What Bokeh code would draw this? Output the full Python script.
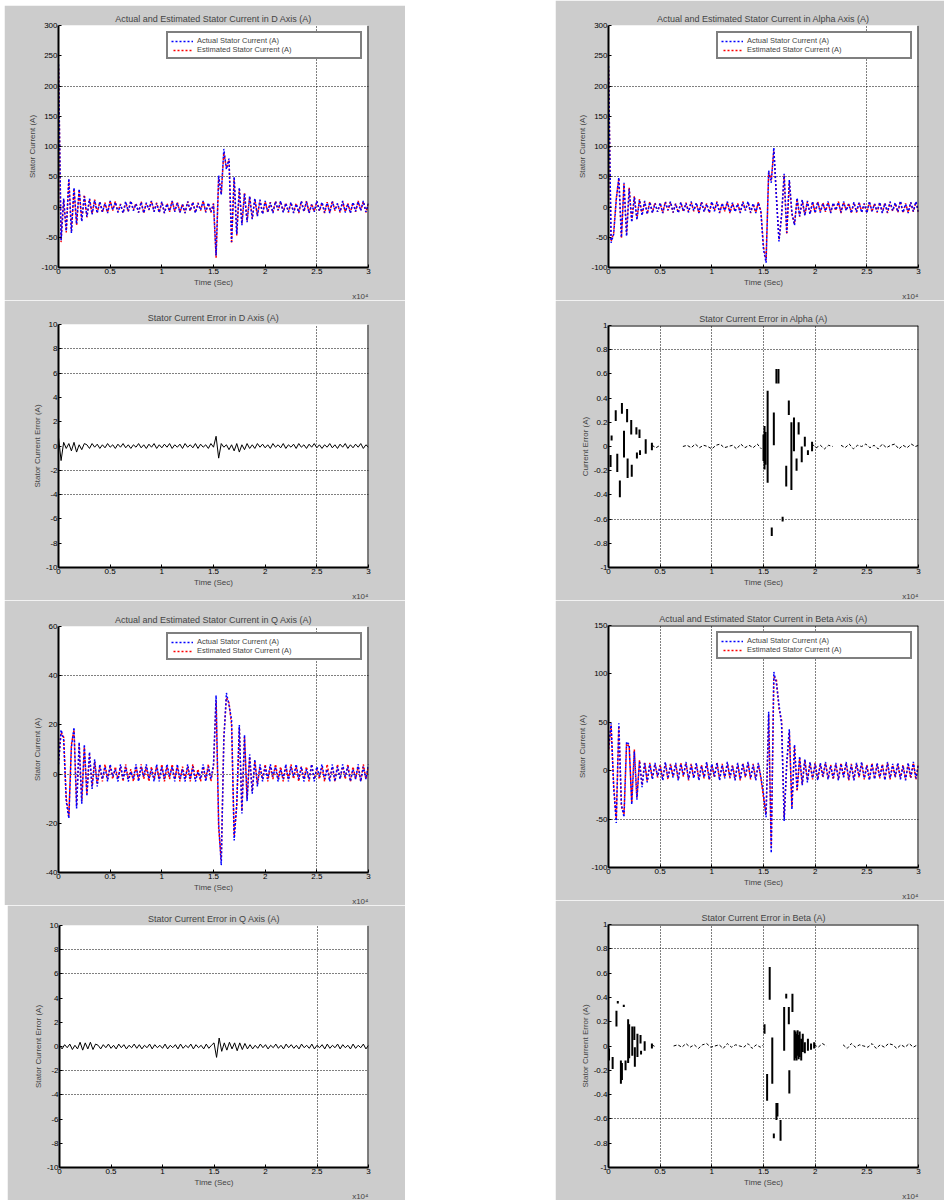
from bokeh.plotting import figure
from bokeh.layouts import row, column, Spacer
from bokeh.models import (FixedTicker, CustomJSTickFormatter, Range1d, Legend, LegendItem,
                          Span, Title)
from bokeh.embed import file_html
from bokeh.resources import INLINE

NAN = float("nan")
FONT = "Liberation Sans"
GRAY = "#cccccc"

# ---------------- data (time in units of 1e4 samples) ----------------
TIME = [0.0, 0.025, 0.05, 0.075, 0.1, 0.125, 0.15, 0.175,
        0.2, 0.225, 0.25, 0.275, 0.3, 0.325, 0.35, 0.375,
        0.4, 0.425, 0.45, 0.475, 0.5, 0.525, 0.55, 0.575,
        0.6, 0.625, 0.65, 0.675, 0.7, 0.725, 0.75, 0.775,
        0.8, 0.825, 0.85, 0.875, 0.9, 0.925, 0.95, 0.975,
        1.0, 1.025, 1.05, 1.075, 1.1, 1.125, 1.15, 1.175,
        1.2, 1.225, 1.25, 1.275, 1.3, 1.325, 1.35, 1.375,
        1.4, 1.425, 1.45, 1.475, 1.5, 1.525, 1.55, 1.575,
        1.6, 1.625, 1.65, 1.675, 1.7, 1.725, 1.75, 1.775,
        1.8, 1.825, 1.85, 1.875, 1.9, 1.925, 1.95, 1.975,
        2.0, 2.025, 2.05, 2.075, 2.1, 2.125, 2.15, 2.175,
        2.2, 2.225, 2.25, 2.275, 2.3, 2.325, 2.35, 2.375,
        2.4, 2.425, 2.45, 2.475, 2.5, 2.525, 2.55, 2.575,
        2.6, 2.625, 2.65, 2.675, 2.7, 2.725, 2.75, 2.775,
        2.8, 2.825, 2.85, 2.875, 2.9, 2.925, 2.95, 2.975,
        3.0]

X_TICKS = [0, 0.5, 1, 1.5, 2, 2.5, 3]

# Panel A (row 1 left)
ACT_A = [236, -55, 14, -40, 47, -43, 32, -28, 30, -24, 18, -16, 14, -12, 11, -10,
         9, -8, 6, -10, 10, -5, 8, -9, 4, -10, 9, -7, 10, -6, 5, -9, 8, -10, 7, -4,
         10, -8, 6, -9, 9, -10, 5, -7, 10, -8, 7, -9, 4, -10, 9, -6, 8, -10, 6, -5,
         10, -9, 7, -8, 5,
         -80, 52, 20, 96, 62, 80, -58, 50, -45, 32, -30, 22, -25, 18, -20, 14, -15, 12, -12,
         10, -8, 7, -10, 9, -5, 10, -9, 6, -8, 8, -10, 5, -9, 10, -7, 9, -10, 4, -8,
         10, -6, 8, -9, 7, -10, 9, -5, 6, -8, 10, -9, 5, -10, 8, -7, 9, -6, 10, -8, 6]
EST_A = [232, -58, 12, -42, 45, -40, 30, -30, 28, -22, 20, -17, 13, -11, 12, -9,
         8, -9, 7, -9, 10, -6, 9, -8, 5, -10, 8, -8, 10, -5, 6, -9, 9, -10, 6, -5,
         10, -7, 7, -9, 8, -10, 6, -8, 10, -7, 8, -9, 5, -10, 9, -7, 8, -9, 7, -6,
         10, -8, 6, -9, 6,
         -84, 50, 22, 90, 65, 78, -60, 48, -47, 30, -28, 24, -23, 17, -19, 13, -14, 11, -11,
         9, -9, 8, -9, 10, -6, 9, -8, 7, -9, 7, -9, 6, -10, 9, -8, 10, -9, 5, -7,
         9, -7, 7, -10, 8, -9, 10, -6, 5, -9, 9, -8, 6, -9, 7, -8, 10, -5, 9, -9, 7]

# Panel B (row 1 right)
ACT_B = [233, -59, -45, 12, 49, -50, 40, -48, 30, -25, 16, -21, 12, -14, 10, -12,
         8, -10, 6, -8, 7, -10, 8, -5, 9, -9, 5, -10, 8, -7, 6, -9, 9, -6, 7, -10,
         8, -8, 5, -9, 9, -7, 8, -10, 6, -6, 9, -9, 7, -8, 5, -10, 8, -6, 9, -9,
         6, -10, 7, -8,
         -70, -92, 60, 40, 98, 15, -57, -13, 55, -43, 45, -10, -30, 15, -15, 12, -14, 10, -12, 9,
         -10, 8, -9, 6, -7, 9, -10, 7, -5, 8, -9, 9, -6, 5, -10, 8, -8, 7, -9, 6,
         -10, 9, -7, 5, -8, 8, -10, 6, -9, 9, -6, 7, -8, 10, -9, 5, -10, 8, -7, 9, -8]
EST_B = [230, -57, -43, 14, 47, -52, 38, -46, 32, -23, 18, -20, 13, -12, 9, -11,
         9, -9, 7, -8, 6, -10, 9, -6, 8, -9, 6, -9, 7, -8, 7, -8, 8, -7, 6, -10,
         9, -7, 6, -10, 8, -6, 9, -9, 5, -7, 8, -10, 6, -7, 6, -9, 9, -5, 8, -10,
         5, -9, 8, -7,
         -66, -88, 57, 44, 93, 18, -54, -15, 52, -45, 42, -12, -28, 13, -16, 11, -13, 9, -11, 8,
         -9, 9, -8, 7, -8, 8, -9, 6, -6, 9, -10, 8, -5, 6, -9, 7, -9, 8, -8, 5,
         -9, 8, -8, 6, -9, 7, -9, 7, -10, 8, -7, 6, -9, 9, -10, 6, -9, 7, -8, 8, -9]

# Panel C (row 2 left, error)
ERR_C = [0.7, -1.2, 0.3, -0.2, 0.2, -0.4, 0.3, -0.5, 0.1, -0.3, 0.2,
         0.1, -0.2, 0.2, -0.1, 0.15, -0.2, 0.1, -0.15, 0.2, -0.1,
         0.1, -0.2, 0.15, -0.1, 0.2, -0.15, 0.1, -0.2, 0.1, -0.1,
         0.2, -0.15, 0.1, -0.2, 0.15, -0.1, 0.2, -0.2, 0.1, -0.15,
         0.15, -0.1, 0.2, -0.2, 0.1, -0.1, 0.15, -0.2, 0.2, -0.1,
         0.1, -0.15, 0.2, -0.2, 0.15, -0.1, 0.1, -0.2, 0.2, -0.1,
         0.8, -1.0, 0.2, -0.1, 0.1, -0.3, 0.1, -0.4, 0.2, -0.5, 0.1, -0.3, 0.2, -0.2,
         0.1, -0.2, 0.2, -0.1, 0.15, -0.15, 0.1, -0.2, 0.2, -0.1,
         0.1, -0.15, 0.2, -0.2, 0.1, -0.1, 0.15, -0.2, 0.2, -0.1,
         0.1, -0.2, 0.15, -0.1, 0.2, -0.15, 0.1, -0.2, 0.1, -0.1,
         0.2, -0.15, 0.1, -0.2, 0.15, -0.1, 0.2, -0.2, 0.1, -0.15,
         0.15, -0.1, 0.2, -0.2, 0.1, -0.1]

# Panel D (row 2 right, error bars + baseline)
BAR_D_T = [0.02, 0.03, 0.07, 0.085, 0.11, 0.13, 0.15, 0.18, 0.185, 0.22,
           0.225, 0.27, 0.275, 0.30, 0.305, 0.36, 0.42, 1.50, 1.51, 1.52,
           1.54, 1.58, 1.60, 1.625, 1.645, 1.685, 1.72, 1.745, 1.77, 1.795,
           1.82, 1.84, 1.87, 1.90, 1.93, 1.97]
BAR_D_LO = [-0.17, 0.05, 0.21, -0.21, -0.42, 0.27, -0.09, 0.20, -0.26, 0.10,
            -0.25, 0.10, -0.10, 0.07, -0.07, -0.06, -0.03, -0.12, -0.19, -0.15,
            -0.30, -0.74, 0.01, 0.52, 0.52, -0.62, -0.33, 0.26, -0.36, -0.04,
            -0.20, 0.10, -0.13, 0.0, -0.07, -0.04]
BAR_D_HI = [-0.07, 0.09, 0.30, -0.06, -0.28, 0.36, 0.13, 0.31, -0.10, 0.22,
            -0.15, 0.16, -0.05, 0.14, -0.03, 0.06, 0.03, 0.10, 0.17, 0.12,
            0.46, -0.67, 0.28, 0.64, 0.64, -0.58, -0.16, 0.38, 0.20, 0.24,
            -0.10, 0.20, 0.0, 0.08, -0.03, 0.04]
BASE_D_T = [0.42, 0.46, 0.5, NAN,
            0.72, 0.76, 0.8, 0.84, 0.88, 0.92, 0.96, 1.0, 1.04, 1.08,
            1.12, 1.16, 1.2, 1.24, 1.28, 1.32, 1.36, 1.4, 1.44, 1.48, NAN,
            1.97, 2.01, 2.05, 2.09, 2.13, 2.17, NAN,
            2.25, 2.29, 2.33, 2.37, 2.41, 2.45, 2.49, 2.53, 2.57, 2.61,
            2.65, 2.69, 2.73, 2.77, 2.81, 2.85, 2.89, 2.93, 2.97, 3.0]
BASE_D_Y = [0.01, -0.01, 0.01, NAN,
            0.0, 0.01, -0.01, 0.02, -0.01, 0.01, 0.0, -0.02, 0.01, 0.02,
            -0.01, 0.0, 0.01, -0.02, 0.02, -0.01, 0.01, -0.01, 0.02, -0.02, NAN,
            0.02, -0.01, 0.01, -0.02, 0.01, 0.0, NAN,
            0.01, -0.01, 0.02, -0.02, 0.01, 0.0, 0.02, -0.01, 0.01, -0.02,
            0.02, -0.01, 0.01, 0.02, -0.02, 0.01, -0.01, 0.02, 0.0, 0.01]

# Panel E (row 3 left)
ACT_E = [4, 18, 14, -11, -18, 11, 19, -14, 13, -12, 12, -9, 9, -6, 6, -5,
         4, -2, 3, -3, 4, -1, 2, -3, 4, -2, 3, -3, 1, -2, 4, -3, 3, -1, 4, -2,
         2, -3, 4, -3, 3, -2, 4, -1, 3, -3, 4, -2, 2, -3, 4, -2, 3, -3, 1, -2,
         4, -3, 3, -2,
         4, 32, -20, -37, 14, 33, 28, 22, -27, -12, 20, -16, 16, -11, 8, -8, 6, -5,
         4, -3, 3, -2, 4, -1, 3, -3, 2, -2, 4, -3, 3, -1, 4, -2, 3, -3, 2, -2,
         4, -3, 3, -1, 4, -2, 2, -3, 4, -3, 3, -2, 4, -1, 3, -3, 2, -2, 4, -3, 3, -2, 4]
EST_E = [5, 17, 15, -10, -17, 12, 18, -13, 12, -11, 11, -8, 8, -5, 5, -4,
         3, -3, 4, -2, 3, -2, 3, -2, 3, -3, 4, -2, 2, -3, 3, -2, 4, -2, 3, -3,
         3, -2, 3, -2, 4, -3, 3, -2, 4, -2, 3, -3, 3, -2, 3, -3, 4, -2, 2, -3,
         3, -2, 4, -3,
         3, 30, -22, -35, 15, 31, 29, 20, -25, -13, 19, -15, 15, -10, 7, -7, 5, -4,
         3, -2, 4, -3, 3, -2, 4, -2, 3, -3, 3, -2, 4, -2, 3, -3, 3, -2, 3, -3,
         4, -2, 2, -2, 3, -3, 4, -2, 3, -3, 4, -2, 3, -2, 4, -3, 3, -2, 3, -3, 4, -2, 3]

# Panel F (row 3 right)
ACT_F = [23, 49, -17, -54, 49, -35, -48, 30, 27, -35, 20, -30, 10, -17, 8, -12,
         7, -9, 8, -6, 5, -10, 9, -8, 6, -7, 8, -10, 7, -5, 9, -9, 6, -8, 8, -10,
         5, -7, 9, -9, 7, -6, 8, -10, 6, -8, 9, -7, 5, -10, 8, -9, 7, -6, 9, -8,
         6, -10, 8, -7,
         -24, -48, 61, -85, 102, 90, 68, 48, -52, 9, 43, -40, 27, -20, 15, -15, 12, -12,
         9, -8, 7, -10, 8, -6, 9, -9, 5, -8, 8, -10, 7, -7, 9, -9, 6, -10, 8, -6,
         9, -8, 5, -10, 7, -9, 8, -7, 6, -10, 9, -8, 7, -6, 8, -9, 5, -10, 8, -7, 9, -8, 6]
EST_F = [20, 47, -15, -50, 46, -37, -45, 28, 25, -33, 22, -28, 11, -15, 9, -11,
         8, -8, 7, -7, 6, -9, 8, -9, 7, -6, 7, -9, 8, -6, 8, -10, 7, -7, 7, -9,
         6, -8, 8, -10, 6, -7, 9, -9, 7, -7, 8, -8, 6, -9, 7, -10, 8, -7, 8, -9,
         7, -9, 7, -8,
         -28, -45, 58, -80, 97, 94, 64, 52, -48, 6, 40, -37, 25, -21, 13, -14, 11, -10,
         8, -9, 8, -9, 7, -7, 8, -8, 6, -9, 7, -9, 8, -6, 8, -10, 7, -9, 7, -7,
         8, -9, 6, -9, 8, -8, 7, -8, 7, -9, 8, -9, 6, -7, 7, -8, 6, -9, 7, -8, 8, -9, 7]

# Panel G (row 4 left, error)
ERR_G = [0.1, -0.2, 0.15, -0.1, 0.2, -0.25, 0.1, -0.2, 0.35, -0.3, 0.3, -0.2, 0.35, -0.25, 0.2,
         0.1, -0.2, 0.15, -0.1, 0.2, -0.15, 0.1, -0.2, 0.2, -0.1,
         0.15, -0.2, 0.1, -0.1, 0.2, -0.15, 0.15, -0.2, 0.1, -0.1,
         0.2, -0.2, 0.15, -0.1, 0.1, -0.15, 0.2, -0.2, 0.1, -0.1,
         0.15, -0.2, 0.2, -0.15, 0.1, -0.1, 0.2, -0.2, 0.15, -0.1,
         0.1, -0.2, 0.2, -0.15, 0.1,
         0.3, -0.9, 0.7, -0.4, 0.3, -0.3, 0.35, -0.2, 0.3, -0.35, 0.3, -0.25, 0.25, -0.2,
         0.15, -0.2, 0.1, -0.15, 0.2, -0.1, 0.15, -0.2, 0.1, -0.1,
         0.2, -0.15, 0.1, -0.2, 0.2, -0.1, 0.15, -0.15, 0.1, -0.2,
         0.2, -0.1, 0.1, -0.15, 0.2, -0.2, 0.1, -0.1, 0.15, -0.2,
         0.2, -0.15, 0.1, -0.1, 0.2, -0.2, 0.15, -0.1, 0.1, -0.2,
         0.2, -0.15, 0.1, -0.1, 0.2, -0.2, 0.1]

# Panel H (row 4 right, error bars + baseline)
BAR_H_T = [0.005, 0.04, 0.077, 0.09, 0.12, 0.13, 0.148, 0.165, 0.19, 0.2,
           0.23, 0.25, 0.255, 0.28, 0.31, 0.315, 0.35, 0.42, 1.51, 1.535,
           1.56, 1.585, 1.60, 1.625, 1.635, 1.665, 1.70, 1.72, 1.745, 1.75,
           1.78, 1.80, 1.81, 1.82, 1.83, 1.84, 1.85, 1.865, 1.88, 1.90,
           1.93, 1.96, 1.99]
BAR_H_LO = [-0.12, -0.19, 0.16, 0.35, -0.31, -0.28, 0.32, -0.20, -0.14, -0.10,
            -0.08, 0.05, -0.17, -0.09, 0.02, -0.07, -0.04, -0.02, 0.10, -0.45,
            0.38, -0.31, -0.76, -0.61, -0.58, -0.78, -0.04, 0.39, 0.18, -0.39,
            0.28, -0.12, -0.10, -0.12, -0.08, -0.11, -0.09, -0.12, -0.05, -0.06,
            -0.04, -0.03, -0.02]
BAR_H_HI = [-0.02, -0.09, 0.29, 0.37, -0.12, -0.14, 0.34, -0.12, 0.22, 0.18,
            0.16, 0.16, -0.01, 0.10, 0.09, -0.04, 0.04, 0.02, 0.18, -0.23,
            0.65, 0.07, -0.72, -0.47, -0.47, -0.61, 0.32, 0.43, 0.32, -0.20,
            0.43, 0.13, 0.12, 0.10, 0.13, 0.09, 0.12, 0.06, 0.10, 0.03,
            0.06, 0.02, 0.03]
BASE_H_T = [0.42, 0.46, NAN,
            0.63, 0.67, 0.71, 0.75, 0.79, 0.83, 0.87, 0.91, 0.95, 0.99, 1.03,
            1.07, 1.11, 1.15, 1.19, 1.23, 1.27, 1.31, 1.35, 1.39, 1.43, 1.47, 1.5, NAN,
            1.99, 2.03, 2.07, 2.11, NAN,
            2.27, 2.31, 2.35, 2.39, 2.43, 2.47, 2.51, 2.55, 2.59, 2.63,
            2.67, 2.71, 2.75, 2.79, 2.83, 2.87, 2.91, 2.95, 2.99]
BASE_H_Y = [0.01, -0.01, NAN,
            0.0, 0.01, -0.01, 0.02, -0.01, 0.01, -0.02, 0.01, 0.02, -0.01, 0.0,
            0.01, -0.02, 0.02, -0.01, 0.01, 0.0, -0.01, 0.02, -0.02, 0.01, -0.01, 0.01, NAN,
            0.01, -0.01, 0.02, 0.0, NAN,
            0.01, -0.02, 0.02, -0.01, 0.01, 0.0, -0.01, 0.02, -0.02, 0.01,
            -0.01, 0.02, 0.01, -0.02, 0.01, -0.01, 0.02, -0.01, 0.01]

Y_TICKS_BIG = [-100, -50, 0, 50, 100, 150, 200, 250, 300]
Y_TICKS_ERR = [-10, -8, -6, -4, -2, 0, 2, 4, 6, 8, 10]
Y_TICKS_DQ = [-1, -0.8, -0.6, -0.4, -0.2, 0, 0.2, 0.4, 0.6, 0.8, 1]
Y_TICKS_E = [-40, -20, 0, 20, 40, 60]
Y_TICKS_F = [-100, -50, 0, 50, 100, 150]

LEG_ACT = "Actual Stator Current (A)"
LEG_EST = "Estimated Stator Current (A)"
X_SCALE_NOTE = "x10\u2074"


def style_axis(ax):
    ax.axis_line_width = 2
    ax.axis_line_color = "black"
    ax.major_tick_in = 3
    ax.major_tick_out = 0
    ax.major_tick_line_color = "black"
    ax.minor_tick_line_color = None
    ax.major_label_text_font = FONT
    ax.major_label_text_font_size = "8px"
    ax.major_label_text_color = "black"
    ax.major_label_standoff = 1
    ax.axis_label_text_font = FONT
    ax.axis_label_text_font_size = "8px"
    ax.axis_label_text_font_style = "normal"
    ax.axis_label_standoff = 1
    ax.formatter = CustomJSTickFormatter(code="return String(tick)")


def make_fig(width, height, left, right, top, bottom, title, ylabel, yr, yticks,
             xgrid, ygrid, top_line):
    p = figure(width=width, height=height, output_backend="svg", toolbar_location=None,
               x_range=Range1d(0, 3), y_range=Range1d(yr[0], yr[1]),
               min_border_left=left, min_border_right=right,
               min_border_top=top, min_border_bottom=bottom,
               border_fill_color=GRAY, background_fill_color="white",
               outline_line_color=None, title=title)
    p.title.align = "center"
    p.title.text_font = FONT
    p.title.text_font_size = "9px"
    p.title.text_font_style = "normal"
    p.title.standoff = 3
    p.xaxis.ticker = FixedTicker(ticks=X_TICKS)
    p.yaxis.ticker = FixedTicker(ticks=yticks)
    p.xaxis.axis_label = "Time (Sec)"
    p.yaxis.axis_label = ylabel
    style_axis(p.xaxis[0])
    style_axis(p.yaxis[0])
    p.xgrid.ticker = FixedTicker(ticks=xgrid)
    p.ygrid.ticker = FixedTicker(ticks=ygrid)
    for g in (p.xgrid[0], p.ygrid[0]):
        g.grid_line_color = "black"
        g.grid_line_dash = "1 2"
        g.grid_line_width = 1
    p.add_layout(Span(location=3, dimension="height", line_color="black", line_width=2))
    if top_line:
        p.add_layout(Span(location=yr[1], dimension="width", line_color="black", line_width=2))
    p.add_layout(Title(text=X_SCALE_NOTE, align="right", text_font=FONT,
                       text_font_size="8px", text_font_style="normal",
                       standoff=0), "below")
    return p


def add_pair(p, act, est):
    r_est = p.line(TIME, est, line_color="#ff0000", line_width=1.5, line_dash="2 2",
                   line_dash_offset=2)
    r_act = p.line(TIME, act, line_color="#0000ff", line_width=1.5, line_dash="2 2")
    leg = Legend(items=[LegendItem(label=LEG_ACT, renderers=[r_act]),
                        LegendItem(label=LEG_EST, renderers=[r_est])],
                 location="top_right", label_text_font=FONT, label_text_font_size="7.5px",
                 glyph_height=8, glyph_width=22, label_height=8, spacing=0, padding=3,
                 margin=6, border_line_color="black", border_line_width=2,
                 label_standoff=4, label_width=160, background_fill_alpha=1)
    p.add_layout(leg)


def add_bars(p, bt, blo, bhi, base_t, base_y):
    p.segment(x0=bt, y0=blo, x1=bt, y1=bhi, line_color="black", line_width=2)
    p.line(base_t, base_y, line_color="black", line_width=1, line_dash="3 2")


# Left column
pA = make_fig(401, 295, 54, 37, 20, 27,
              "Actual and Estimated Stator Current in D Axis (A)", "Stator Current (A)",
              (-100, 300), Y_TICKS_BIG, [2.5], [50, 100, 200], False)
add_pair(pA, ACT_A, EST_A)

pC = make_fig(401, 300, 54, 37, 24, 27,
              "Stator Current Error in D Axis (A)", "Stator Current Error (A)",
              (-10, 10), Y_TICKS_ERR, [2.5], [8, 6, -2, -4], False)
pC.line(TIME, ERR_C, line_color="black", line_width=1)

pE = make_fig(401, 305, 54, 37, 26, 33,
              "Actual and Estimated Stator Current in Q Axis (A)", "Stator Current (A)",
              (-40, 60), Y_TICKS_E, [2.5], [0, 40], False)
add_pair(pE, ACT_E, EST_E)

pG = make_fig(398, 295, 52, 37, 20, 29,
              "Stator Current Error in Q Axis (A)", "Stator Current Error (A)",
              (-10, 10), Y_TICKS_ERR, [2.5], [8, 6, -2, -4], False)
pG.line(TIME, ERR_G, line_color="black", line_width=1)

# Right column
pB = make_fig(389, 300, 53, 26, 25, 32,
              "Actual and Estimated Stator Current in Alpha Axis (A)", "Stator Current (A)",
              (-100, 300), Y_TICKS_BIG, [2.5], [50, 100, 200], False)
add_pair(pB, ACT_B, EST_B)

pD = make_fig(389, 300, 53, 26, 25, 32,
              "Stator Current Error in Alpha (A)", "Current Error (A)",
              (-1, 1), Y_TICKS_DQ, [0.5, 1, 1.5, 2], [0.8, -0.6], True)
add_bars(pD, BAR_D_T, BAR_D_LO, BAR_D_HI, BASE_D_T, BASE_D_Y)

pF = make_fig(389, 300, 53, 26, 25, 32,
              "Actual and Estimated Stator Current in Beta Axis (A)", "Stator Current (A)",
              (-100, 150), Y_TICKS_F, [0.5, 1, 1.5, 2], [-50], True)
add_pair(pF, ACT_F, EST_F)

pH = make_fig(389, 300, 53, 26, 24, 32,
              "Stator Current Error in Beta (A)", "Stator Current Error (A)",
              (-1, 1), Y_TICKS_DQ, [0.5, 1, 1.5, 2], [0.8, -0.6], True)
add_bars(pH, BAR_H_T, BAR_H_LO, BAR_H_HI, BASE_H_T, BASE_H_Y)

left_col = column(
    Spacer(width=405, height=5),
    row(Spacer(width=4, height=295), pA),
    row(Spacer(width=4, height=300), pC),
    row(Spacer(width=4, height=305), pE),
    row(Spacer(width=7, height=295), pG),
)
right_col = column(pB, pD, pF, pH)
layout = row(left_col, Spacer(width=150, height=1200), right_col)

with open("out.html", "w") as f:
    f.write(file_html(layout, INLINE))
